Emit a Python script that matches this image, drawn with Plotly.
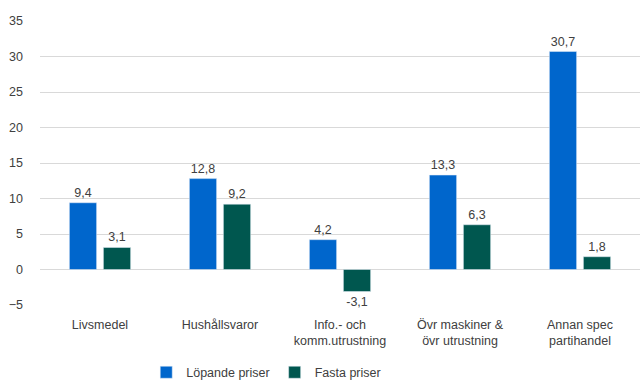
import plotly.graph_objects as go

categories = ["Livsmedel", "Hushållsvaror", "Info.- och<br>komm.utrustning",
              "Övr maskiner &<br>övr utrustning", "Annan spec<br>partihandel"]
lopande = [9.4, 12.8, 4.2, 13.3, 30.7]
fasta = [3.1, 9.2, -3.1, 6.3, 1.8]
tick_vals = [-5, 0, 5, 10, 15, 20, 25, 30, 35]

def fmt(v):
    return [f"{x:.1f}".replace(".", ",") for x in v]

font = dict(family="Liberation Sans, Arial, sans-serif", size=12.5, color="#404040")

fig = go.Figure()
fig.add_trace(go.Bar(x=categories, y=lopande, name="Löpande priser",
                     marker=dict(color="#0066CC"), text=fmt(lopande),
                     textposition="outside", textfont=font, cliponaxis=False))
fig.add_trace(go.Bar(x=categories, y=fasta, name="Fasta priser",
                     marker=dict(color="#00574F"), text=fmt(fasta),
                     textposition="outside", textfont=font, cliponaxis=False))

fig.update_layout(
    width=640, height=381,
    margin=dict(l=40, r=0, t=21, b=76, autoexpand=False),
    paper_bgcolor="white", plot_bgcolor="white",
    barmode="group", bargap=0.433, bargroupgap=0.2,
    font=font,
    showlegend=True,
    legend=dict(orientation="h", x=0.416, xanchor="center", xref="container",
                y=0.022, yanchor="middle", yref="container",
                font=font, itemwidth=30, traceorder="normal"),
    xaxis=dict(showgrid=False, showline=False, ticks="", tickfont=font,
               ticklabelstandoff=10),
    yaxis=dict(range=[-5, 35], tickvals=tick_vals, showgrid=True, gridcolor="#D9D9D9",
               gridwidth=1, zeroline=True, zerolinecolor="#D9D9D9", zerolinewidth=1,
               showline=False, ticks="", tickfont=font, ticklabelstandoff=16),
)

fig.write_html("out.html")
